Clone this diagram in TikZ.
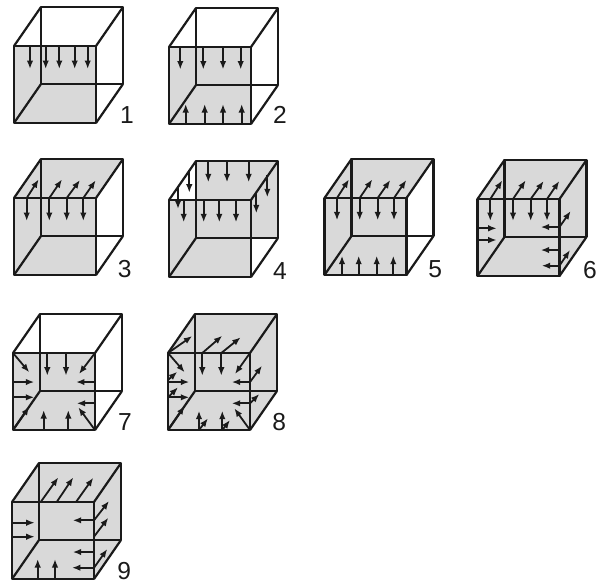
\documentclass[tikz,border=0pt]{standalone}
\usepackage{fontspec}
\setmainfont{Liberation Sans}
\usetikzlibrary{arrows.meta}
\definecolor{facegray}{HTML}{D9D9D9}
\definecolor{edgeblack}{HTML}{1A1A1A}

% #1,#2: upper left corner of the front face
\newcommand{\cubeframe}[2]{
	\draw[edge] (#1,#2) rectangle +(82,77);
	\draw[edge] (#1+27,#2-39) rectangle +(82,77);
	\draw[edge] (#1,#2) -- +(27,-39);
	\draw[edge] (#1+82,#2) -- +(27,-39);
	\draw[edge] (#1,#2+77) -- +(27,-39);
	\draw[edge] (#1+82,#2+77) -- +(27,-39);
}
\newcommand{\frontface}[2]{\fill[facegray] (#1,#2) rectangle +(82,77);}
\newcommand{\backface}[2]{\fill[facegray] (#1+27,#2-39) rectangle +(82,77);}
\newcommand{\topface}[2]{\fill[facegray] (#1,#2) -- +(27,-39) -- +(109,-39) -- +(82,0) -- cycle;}
\newcommand{\rightface}[2]{\fill[facegray] (#1+82,#2) -- +(27,-39) -- +(27,38) -- +(0,77) -- cycle;}

\begin{document}
\begin{tikzpicture}[x=0.02cm, y=-0.02cm]
	\tikzset{edge/.style={edgeblack, line width=0.044cm, line join=round}}
	\tikzset{arrow/.style={-{Latex[length=0.17cm, width=0.13cm]}, edgeblack, line width=0.036cm}}
	\tikzset{number/.style={font=\fontsize{14}{15}\selectfont, text=edgeblack, inner sep=0pt}}

	\useasboundingbox (0,0) rectangle (601,583);

	% faces
	\foreach \x/\y in {14/46, 169/47, 14/198, 169/200, 324.5/198, 477.5/199, 13/353, 168/353, 12/502}
		{\frontface{\x}{\y}}
	\foreach \x/\y in {14/198, 324.5/198, 477.5/199, 168/353, 12/502}
		{\topface{\x}{\y}}
	\foreach \x/\y in {477.5/199, 168/353, 12/502}
		{\rightface{\x}{\y}}
	\backface{169}{200}

	% cubes
	\foreach \x/\y in {14/46, 169/47, 14/198, 169/200, 324.5/198, 477.5/199, 13/353, 168/353, 12/502}
		{\cubeframe{\x}{\y}}

	% straight arrows: x, start y, end y
	\foreach \x/\s/\e in {
		30/46/69, 45.7/46/69, 59.3/46/69, 74.7/46/69, 87.7/46/69,
		180.3/47/69.5, 203.3/47/69.5, 223/47/69.5, 240.7/47/69.5,
		185.7/124/104, 204.7/124/104, 223/124/104, 241.7/124/104,
		26.7/198/221, 49.3/198/221, 66.7/198/221, 83.3/198/221,
		208.3/160.7/182.3, 227/160.7/182.3, 248.7/160.7/182.3,
		183.7/200/222.3, 203.7/200/222.3, 219.3/200/222.3, 236/200/222.3,
		189.3/170/192.7, 178/186.7/209, 267.3/175/197.3, 256.3/191.7/213.3,
		337/198/220.3, 359.7/198/220.3, 377.7/198/220.3, 394/198/220.3,
		342/275/255.7, 358.7/275/255.7, 376.7/275/255.7, 393.3/275/255.7,
		490.3/199/221, 513/199/221, 530.7/199/221, 547/199/221,
		47.3/353/375.7, 66/353/375.7, 43.7/430/410, 68.3/430/410,
		202.3/353/375.7, 221.3/353/375.7, 199/430/410.7, 222.3/430/410.7,
		37.7/579/559, 55/579/559}
		{\draw[arrow] (\x,\s) -- (\x,\e);}

	% sideways arrows: y, start x, end x
	\foreach \y/\s/\e in {
		228.3/477.5/496.7, 240/477.5/496.7, 227/559.5/540.7, 250/559.5/540.7, 265.7/559.5/541.7,
		382/13/34.3, 397.3/13/34.3, 382/95/76, 403.3/95/76.7,
		382/168/189.3, 397.3/168/189.3, 382/250/231.7, 403.3/250/231.7,
		522.7/12/34.7, 536.7/12/34.7, 520.3/94/72.7, 552/94/72.7, 567.7/94/72}
		{\draw[arrow] (\s,\y) -- (\e,\y);}

	% slanted arrows
	\foreach \a/\b/\c/\d in {
		26.7/198/38.7/179.3, 49.3/198/62/179.3, 66.7/198/80/180, 83.3/198/95.7/180.3,
		337/198/349/179.3, 359.7/198/372.3/179.3, 377.7/198/390.3/180, 394/198/406.3/180,
		490.3/199/502.3/180.3, 513/199/525.7/180.3, 530.7/199/543.7/181, 547/199/559.3/181,
		559.5/227/570.7/211, 559.5/265.7/570/250,
		13/353/29.3/372.3, 95/353/79/374, 13/430/29.3/406.7, 95/430/78.3/407.3,
		168/353/184.7/372.3, 250/353/235/374, 168/430/184.7/406, 250/430/234.3/408.3,
		168/353/192.3/336, 202.3/353/222.3/335.7, 221.3/353/240.7/337.3,
		168/380/177.3/371.7, 168/397.3/178/387.3,
		250/382/262/365.7, 250/403.3/259.3/394,
		199/430/208/418.3, 222.3/430/230/420,
		40.7/502/58.3/477.3, 56.7/502/73.3/477.3, 76/502/93.3/477.7,
		94/520.3/109/501, 94/536.7/108.3/517.7, 94/567.7/107.3/549}
		{\draw[arrow] (\a,\b) -- (\c,\d);}

	% numbers
	\node (n1) [number] at (127,115) {1};
	\node (n2) [number] at (280,115) {2};
	\node (n3) [number] at (124.7,269) {3};
	\node (n4) [number] at (280,271) {4};
	\node (n5) [number] at (435.3,269.3) {5};
	\node (n6) [number] at (590,270) {6};
	\node (n7) [number] at (125,422) {7};
	\node (n8) [number] at (279.3,422) {8};
	\node (n9) [number] at (124.3,571) {9};
\end{tikzpicture}
\end{document}
